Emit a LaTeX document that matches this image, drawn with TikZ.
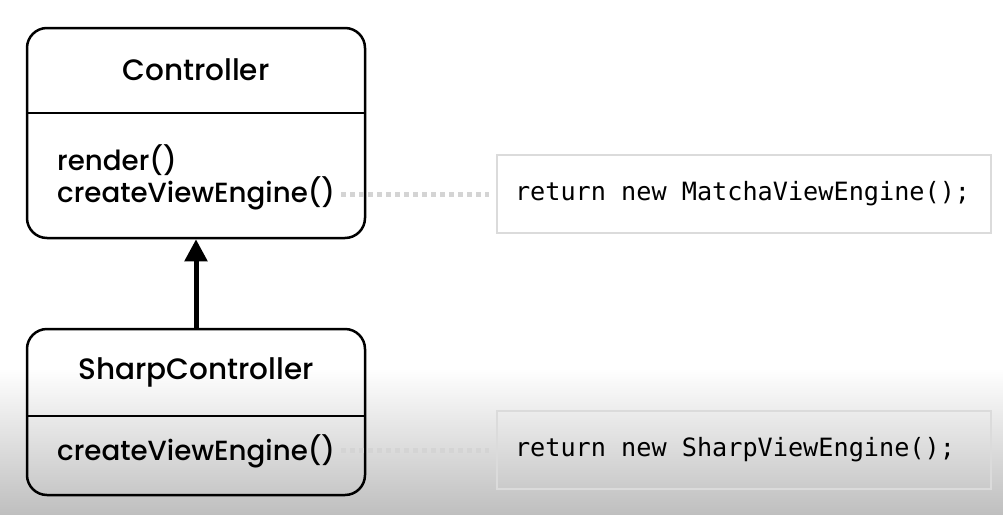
\documentclass[tikz,border=0pt]{standalone}
\usepackage{fontspec}
\setmainfont{Poppins}[UprightFont={* Medium}]
\newfontfamily\codefont{DejaVu Sans Mono}
\newcommand\csp{\hspace*{0.602em}}
\usepackage{tikz}
\usetikzlibrary{arrows.meta}

\tikzset{
    classbox/.style={draw, line width=2.5pt, rounded corners=20pt, minimum width=338pt},
    classname/.style={font=\fontsize{29.5}{34}\selectfont, inner sep=0pt},
    method/.style={font=\fontsize{27.7}{32}\selectfont, anchor=west, inner sep=0pt},
    codebox/.style={draw=black!14, line width=2pt, minimum height=78pt, text width=458pt,
        inner xsep=18pt, align=left, font=\codefont\fontsize{25.2}{29}\selectfont},
    dots/.style={draw=black!17, line width=5pt, dash pattern=on 5pt off 4pt},
}

\begin{document}
\begin{tikzpicture}[x=1pt, y=1pt]
            \useasboundingbox (0,0) rectangle (1003,-514);
            \shade[top color=white, bottom color=black!25] (0,-368) rectangle (1003,-514);

            % base class
            \node[classbox, minimum height=210pt] at (196, -133) (ctrl) {};
            \node[classname] at (196, -70) (ctrlname) {Controller};
            \draw [line width=2.5pt] (27, -113) -- (365, -113);
            \node[method] at (57, -160) (render) {render()};
            \node[method] at (57, -193) (create) {createViewEngine()};

            % sub class
            \node[classbox, minimum height=166pt] at (196, -412) (sharp) {};
            \node[classname] at (196, -372) (sharpname) {SharpController};
            \draw [line width=2.5pt] (27, -416) -- (365, -416);
            \node[method] at (57, -451) (sharpcreate) {createViewEngine()};

            % code notes
            \node[codebox] at (744, -194) (code1) {return\csp new\csp MatchaViewEngine();};
            \node[codebox] at (744, -450) (code2) {return\csp new\csp SharpViewEngine();};

            \draw [line width=5pt, -{Triangle[width=22pt, length=22pt]}] (sharp.north) -- (ctrl.south);
            \draw [dots, shorten <=6pt, shorten >=7pt] (create.east |- code1.west) -- (code1.west);
            \draw [dots, shorten <=6pt, shorten >=7pt] (sharpcreate.east |- code2.west) -- (code2.west);
        \end{tikzpicture}
\end{document}
